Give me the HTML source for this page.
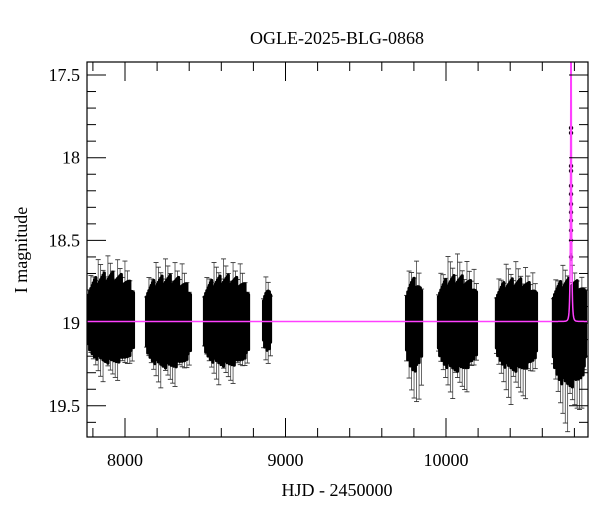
<!DOCTYPE html>
<html><head><meta charset="utf-8"><style>
body{margin:0;background:#fff;}
svg{display:block;font-family:"Liberation Serif",serif;}
</style></head><body>
<svg id="chart" width="600" height="512" viewBox="0 0 600 512" xmlns="http://www.w3.org/2000/svg">
<text x="337" y="44" font-size="18" text-anchor="middle">OGLE-2025-BLG-0868</text>
<text x="337" y="496" font-size="18" text-anchor="middle">HJD - 2450000</text>
<text x="0" y="0" font-size="18" text-anchor="middle" transform="translate(27,250) rotate(-90)">I magnitude</text>
<g id="data"></g>
<g id="axes"></g>
</svg>
<script>
// observing seasons: [start HJD, end HJD, core top mag, core bottom mag, bar top mag, bar bottom mag]
const seasonStart = [7763, 8125, 8486, 8854, 9745, 9944, 10305, 10660];
const seasonEnd   = [8062, 8417, 8779, 8916, 9857, 10199, 10573, 10878];
const coreTop     = [18.68, 18.7, 18.7, 18.78, 18.72, 18.7, 18.72, 18.72];
const coreBot     = [19.25, 19.28, 19.27, 19.18, 19.3, 19.3, 19.3, 19.4];
const barTop      = [18.56, 18.58, 18.58, 18.68, 18.6, 18.55, 18.6, 18.62];
const barBot      = [19.38, 19.42, 19.4, 19.35, 19.58, 19.48, 19.52, 19.68];
// peak measurements
const peakT = [10779,10779,10779,10779,10779,10779,10779,10779,10779,10779,10779,10779];
const peakM = [17.82,17.85,18.05,18.08,18.17,18.22,18.28,18.33,18.38,18.44,18.5,18.6];
// event model
const baseMag = 18.99, t0 = 10779, tE = 6, u0 = 0.06;
const xTicks = [8000, 9000, 10000];
const yTicks = [17.5, 18, 18.5, 19, 19.5];

const L=87,R=588,T=62,B=437;
const X = t => 125 + (t - 8000) * 0.1605;
const Y = m => 157.7 + (m - 18) * 165.4;
const NS="http://www.w3.org/2000/svg";
const g=document.getElementById('data'), ax=document.getElementById('axes');
function mk(tag,attrs,parent){const e=document.createElementNS(NS,tag);for(const k in attrs)e.setAttribute(k,attrs[k]);parent.appendChild(e);return e;}

const defs=mk('defs',{},g);
const cp=mk('clipPath',{id:'clip'},defs);
mk('rect',{x:L,y:T,width:R-L,height:B-T},cp);
g.setAttribute('clip-path','url(#clip)');

for(let i=0;i<seasonStart.length;i++){
  const x0=X(seasonStart[i])+1.5, x1=X(seasonEnd[i])-1.5, w=x1-x0;
  const n=Math.max(4,Math.round(w/1.2));
  const sg=mk('g',{},g);
  
  
  // error bars
  for(let j=0;j<=n;j+=2){
    const x=x0+w*j/n;
    const f=Math.sin(Math.PI*(j+0.5)/(n+1));
    const k=0.5+0.5*Math.sqrt(f);
    const v1=(j*37%11)/11, v2=(j*53%13)/13;
    const top=baseMag-(baseMag-barTop[i])*(0.6+0.4*v1)*k;
    const bot=baseMag+(barBot[i]-baseMag)*(0.6+0.4*v2)*k;
    mk('line',{x1:x,x2:x,y1:Y(top),y2:Y(bot),stroke:'#444','stroke-width':0.8},sg);
    mk('line',{x1:x-2.5,x2:x+2.5,y1:Y(top),y2:Y(top),stroke:'#333','stroke-width':0.9},sg);
    mk('line',{x1:x-2.5,x2:x+2.5,y1:Y(bot),y2:Y(bot),stroke:'#333','stroke-width':0.9},sg);
  }
  // dense points core
  for(let j=0;j<=n;j++){
    const x=x0+w*j/n;
    const f=Math.sin(Math.PI*(j+0.5)/(n+1));
    const k=0.6+0.4*Math.sqrt(f);
    const v1=(j*29%7)/7, v2=(j*41%9)/9;
    const top=baseMag-(baseMag-coreTop[i])*(0.75+0.25*v1)*k;
    const bot=baseMag+(coreBot[i]-baseMag)*(0.75+0.25*v2)*k;
    mk('line',{x1:x,x2:x,y1:Y(top),y2:Y(bot),stroke:'#000','stroke-width':3.2,'stroke-linecap':'round'},sg);
  }
}
for(let i=0;i<peakT.length;i++){
  const x=X(peakT[i]),y=Y(peakM[i]);
  mk('line',{x1:x,x2:x,y1:y-4,y2:y+4,stroke:'#333','stroke-width':0.8},g);
  const p=mk('circle',{cx:x,cy:y,r:2.2,fill:'#000'},g);
  
  
}
let d='';
for(let px=L;px<=R;px+=0.25){
  const t=8000+(px-125)/0.1605;
  const u=Math.sqrt(u0*u0+((t-t0)/tE)**2);
  const A=(u*u+2)/(u*Math.sqrt(u*u+4));
  const m=baseMag-2.5*Math.log10(A);
  d+=(d?'L':'M')+px.toFixed(2)+','+Y(m).toFixed(2);
}
const model=mk('path',{d:d,fill:'none',stroke:'#ff40ff','stroke-width':1.5},g);



const fr=mk('rect',{x:L,y:T,width:R-L,height:B-T,fill:'none',stroke:'#000','stroke-width':1.2},ax);


for(let t=7800;t<=10800;t+=200){
  const x=X(t), maj=t%1000===0, len=maj?19:9;
  if(x<L||x>R)continue;
  mk('line',{x1:x,x2:x,y1:B,y2:B-len,stroke:'#000','stroke-width':1},ax);
  mk('line',{x1:x,x2:x,y1:T,y2:T+len,stroke:'#000','stroke-width':1},ax);
}
xTicks.forEach(t=>{
  const e=mk('text',{x:X(t),y:B+29,'font-size':18,'text-anchor':'middle'},ax);
  e.textContent=t;
  
  
});
for(let k=175;k<=196;k++){
  const m=k/10, y=Y(m), maj=k%5===0, len=maj?19:9;
  if(y<T||y>B)continue;
  mk('line',{x1:L,x2:L+len,y1:y,y2:y,stroke:'#000','stroke-width':1},ax);
  mk('line',{x1:R,x2:R-len,y1:y,y2:y,stroke:'#000','stroke-width':1},ax);
}
yTicks.forEach(m=>{
  const e=mk('text',{x:L-7,y:Y(m)+6,'font-size':18,'text-anchor':'end'},ax);
  e.textContent=m;
  
  
});
</script>
</body></html>
